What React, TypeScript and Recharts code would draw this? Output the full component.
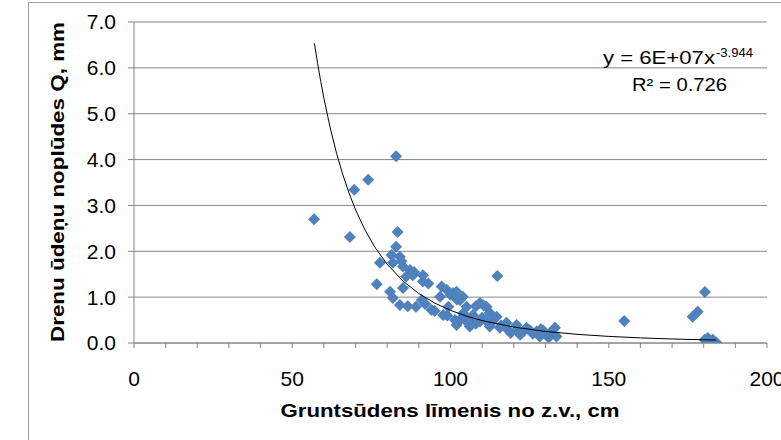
import React from 'react';
import { ScatterChart, Scatter, XAxis, YAxis, CartesianGrid } from 'recharts';

// Groundwater level below surface, cm
const groundwaterCm = [
  56.9, 68.2, 69.6, 74.0, 82.8, 83.3, 82.8, 81.4, 84.0, 77.7, 81.8, 85.0, 87.2, 88.1, 91.3, 91.3,
  76.7, 85.0, 80.9, 81.8, 84.0, 89.1, 90.9, 94.0, 97.2, 96.7, 98.8, 101.9, 99.3, 103.0, 97.7, 101.4,
  103.9, 105.1, 105.5, 114.8, 100.8, 103.9, 109.3, 111.4, 112.4, 114.6, 107.1, 103.0, 109.3, 117.7,
  120.9, 124.0, 127.2, 128.2, 130.4, 101.9, 106.1, 112.4, 115.6, 125.1, 129.2, 131.4, 133.0, 133.5,
  154.9, 180.4, 178.1, 176.5, 181.3, 182.9, 184.0, 180.3,
  86.0, 88.5, 84.5, 93.0, 95.0, 92.0, 99.0, 106.0, 108.0, 110.0, 113.0, 116.0, 118.0, 121.0, 123.0,
  126.0, 131.0, 104.0, 111.0, 119.0, 122.0, 110.5, 108.0, 102.0, 100.0, 86.5, 128.5,
];
// Drain outflow Q, mm
const drainFlowMm = [
  2.70, 2.31, 3.34, 3.56, 4.07, 2.42, 2.10, 1.92, 1.88, 1.75, 1.75, 1.67, 1.59, 1.48, 1.48, 1.34,
  1.28, 1.20, 1.12, 0.98, 0.83, 0.79, 0.94, 0.72, 1.23, 1.01, 1.16, 1.12, 0.79, 0.94, 0.61, 0.50,
  0.57, 0.79, 0.44, 1.46, 1.09, 1.01, 0.87, 0.79, 0.66, 0.57, 0.61, 0.50, 0.47, 0.44,
  0.39, 0.33, 0.25, 0.14, 0.17, 0.39, 0.36, 0.36, 0.33, 0.28, 0.28, 0.22, 0.33, 0.14,
  0.48, 1.11, 0.68, 0.57, 0.11, 0.07, 0.01, 0.07,
  1.45, 1.55, 1.78, 1.30, 0.70, 0.85, 0.60, 0.50, 0.42, 0.55, 0.45, 0.38, 0.30, 0.28, 0.25,
  0.20, 0.12, 0.65, 0.50, 0.22, 0.18, 0.82, 0.80, 0.95, 1.05, 0.80, 0.30,
];

// Power trendline y = a * x^b (displayed as 6E+07x^-3.944)
const TREND_A = 5.5e7;
const TREND_B = -3.944;
const trendX = [57, 58, 59, 60, 62, 64, 66, 68, 70, 73, 76, 80, 85, 90, 95, 100, 105, 110, 120, 130, 140, 150, 160, 170, 180, 184];

const xTicks = [0, 10, 20, 30, 40, 50, 60, 70, 80, 90, 100, 110, 120, 130, 140, 150, 160, 170, 180, 190, 200];
const yTicks = [0, 1, 2, 3, 4, 5, 6, 7];

const xTitle = 'Gruntsūdens līmenis no z.v., cm';
const yTitle = 'Drenu ūdeņu noplūdes Q, mm';
const eqMain = 'y = 6E+07x';
const eqExp = '-3.944';
const r2Text = 'R² = 0.726';

const points = groundwaterCm.map((x, i) => ({ x, y: drainFlowMm[i] }));
const trend = trendX.map((x) => ({ x, y: TREND_A * Math.pow(x, TREND_B) }));

const FONT = '"Liberation Sans", Arial, sans-serif';
const GRID = '#868686';

const Diamond = (props: any) => {
  const { cx, cy } = props;
  if (cx == null || cy == null) return <g />;
  const r = 6;
  return (
    <polygon
      points={`${cx},${cy - r} ${cx + r},${cy} ${cx},${cy + r} ${cx - r},${cy}`}
      fill="#4F81BD"
    />
  );
};

const NoShape = () => <g />;

export default function App() {
  return (
    <div style={{ position: 'absolute', left: 0, top: 0, width: 781, height: 440, background: '#fff' }}>
      <ScatterChart width={781} height={440} margin={{ top: 22, right: 14, bottom: 37, left: 0 }}>
        <CartesianGrid vertical={false} stroke={GRID} strokeWidth={1} />
        <XAxis
          type="number"
          dataKey="x"
          domain={[0, 200]}
          ticks={xTicks}
          interval={0}
          height={60}
          allowDataOverflow
          tickFormatter={(v: number) => (v % 50 === 0 ? String(v) : '')}
          tick={{ fontSize: 21, fill: '#000', fontFamily: FONT }}
          tickSize={5}
          tickMargin={23}
          axisLine={{ stroke: GRID }}
          tickLine={{ stroke: GRID }}
        />
        <YAxis
          type="number"
          dataKey="y"
          domain={[0, 7]}
          ticks={yTicks}
          interval={0}
          width={134}
          allowDataOverflow
          tickFormatter={(v: number) => v.toFixed(1)}
          tick={{ fontSize: 21, fill: '#000', fontFamily: FONT }}
          tickSize={6}
          tickMargin={12}
          axisLine={{ stroke: GRID }}
          tickLine={{ stroke: GRID }}
        />
        <Scatter data={points} shape={Diamond} isAnimationActive={false} />
        <Scatter
          data={trend}
          line={{ stroke: '#000', strokeWidth: 1 }}
          shape={NoShape}
          isAnimationActive={false}
        />
      </ScatterChart>
      <svg
        width={781}
        height={440}
        style={{ position: 'absolute', left: 0, top: 0, pointerEvents: 'none' }}
      >
        <rect x={28.5} y={2.5} width={800} height={500} fill="none" stroke="#A0A0A0" strokeWidth={1} />
        <text
          x={450}
          y={417}
          textAnchor="middle"
          fontFamily={FONT}
          fontWeight="bold"
          fontSize={19}
          textLength={339}
          lengthAdjust="spacingAndGlyphs"
          fill="#000"
        >
          {xTitle}
        </text>
        <text
          transform="translate(64,182) rotate(-90)"
          x={0}
          y={0}
          textAnchor="middle"
          fontFamily={FONT}
          fontWeight="bold"
          fontSize={19}
          textLength={320}
          lengthAdjust="spacingAndGlyphs"
          fill="#000"
        >
          {yTitle}
        </text>
        <text x={603} y={64} fontFamily={FONT} fontSize={18} textLength={112} lengthAdjust="spacingAndGlyphs" fill="#000">
          {eqMain}
        </text>
        <text x={716} y={57} fontFamily={FONT} fontSize={12} textLength={37} lengthAdjust="spacingAndGlyphs" fill="#000">
          {eqExp}
        </text>
        <text x={632} y={91} fontFamily={FONT} fontSize={18} textLength={95} lengthAdjust="spacingAndGlyphs" fill="#000">
          {r2Text}
        </text>
      </svg>
    </div>
  );
}
